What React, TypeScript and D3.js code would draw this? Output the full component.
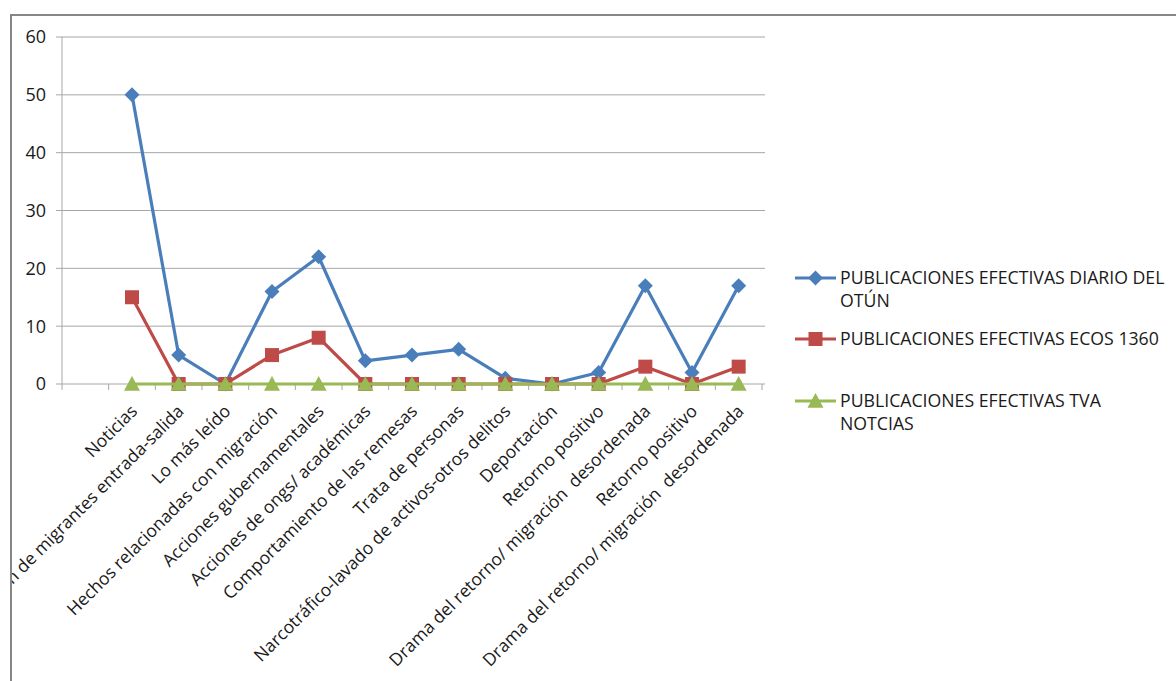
import React from "react";
import * as d3 from "d3";

const categories: string[] = [
  "",
  "Noticias",
  "Circulación de migrantes entrada-salida",
  "Lo más leído",
  "Hechos relacionadas con migración",
  "Acciones gubernamentales",
  "Acciones de ongs/ académicas",
  "Comportamiento de las remesas",
  "Trata de personas",
  "Narcotráfico-lavado de activos-otros delitos",
  "Deportación",
  "Retorno positivo",
  "Drama del retorno/ migración  desordenada",
  "Retorno positivo",
  "Drama del retorno/ migración  desordenada",
];

const diarioOtun: (number | null)[] = [null, 50, 5, 0, 16, 22, 4, 5, 6, 1, 0, 2, 17, 2, 17];
const ecos1360: (number | null)[] = [null, 15, 0, 0, 5, 8, 0, 0, 0, 0, 0, 0, 3, 0, 3];
const tvaNoticias: (number | null)[] = [null, 0, 0, 0, 0, 0, 0, 0, 0, 0, 0, 0, 0, 0, 0];

const yTicks: number[] = [0, 10, 20, 30, 40, 50, 60];

const seriesNames: string[][] = [
  ["PUBLICACIONES EFECTIVAS DIARIO DEL", "OTÚN"],
  ["PUBLICACIONES EFECTIVAS ECOS 1360"],
  ["PUBLICACIONES EFECTIVAS TVA", "NOTCIAS"],
];

const colors = ["#4A7EBB", "#BE4B48", "#98B954"];
const markers = ["diamond", "square", "triangle"];

const FONT = "'Open Sans', sans-serif";

function Marker({ kind, x, y, color }: { kind: string; x: number; y: number; color: string }) {
  if (kind === "diamond") {
    const s = 7.5;
    return <path d={`M${x},${y - s}L${x + s},${y}L${x},${y + s}L${x - s},${y}Z`} fill={color} />;
  }
  if (kind === "square") {
    const s = 7;
    return <rect x={x - s} y={y - s} width={2 * s} height={2 * s} fill={color} />;
  }
  const s = 8;
  return <path d={`M${x},${y - s}L${x + s},${y + s * 0.85}L${x - s},${y + s * 0.85}Z`} fill={color} />;
}

export default function App() {
  const W = 1176;
  const H = 681;
  const x = d3.scaleBand<number>().domain(categories.map((_, i) => i)).range([62, 762]);
  const cx = (i: number) => (x(i) as number) + x.bandwidth() / 2;
  const y = d3.scaleLinear().domain([0, 60]).range([384, 37]);
  const all = [diarioOtun, ecos1360, tvaNoticias];
  const line = d3
    .line<number | null>()
    .defined((d) => d !== null)
    .x((_, i) => cx(i))
    .y((d) => y(d as number));

  const legendY = [278, 339, 401];

  return (
    <svg
      width={W}
      height={H}
      style={{ position: "absolute", left: 0, top: 0, background: "#fff" }}
      fontFamily={FONT}
    >
      <defs>
        <clipPath id="chartClip">
          <rect x={11} y={15} width={W} height={H} />
        </clipPath>
      </defs>
      <rect x={0} y={0} width={W} height={H} fill="#fff" />
      <g clipPath="url(#chartClip)">
        {yTicks.map((t) => (
          <g key={t}>
            {t > 0 && <line x1={62} x2={765} y1={y(t)} y2={y(t)} stroke="#A6A6A6" strokeWidth={1} />}
            <line x1={56} x2={62} y1={y(t)} y2={y(t)} stroke="#A6A6A6" strokeWidth={1} />
            <text x={46} y={y(t)} dy="0.36em" textAnchor="end" fontSize={18} fill="#1a1a1a">
              {t}
            </text>
          </g>
        ))}
        <line x1={62} x2={62} y1={y(60)} y2={y(0)} stroke="#A6A6A6" strokeWidth={1} />
        <line x1={62} x2={765} y1={y(0)} y2={y(0)} stroke="#A6A6A6" strokeWidth={1} />
        {categories.map((_, i) => (
          <line key={i} x1={x(i) as number} x2={x(i) as number} y1={384} y2={390} stroke="#A6A6A6" />
        ))}
        <line x1={762} x2={762} y1={384} y2={390} stroke="#A6A6A6" />
        {categories.map((c, i) => (
          <text
            key={i}
            transform={`translate(${cx(i) + 2},${408}) rotate(-45)`}
            textAnchor="end"
            dy="0.35em"
            fontSize={17.5}
            fill="#1a1a1a"
            style={{ whiteSpace: "pre" }}
          >
            {c}
          </text>
        ))}
        {all.map((s, k) => (
          <g key={k}>
            <path d={line(s) || ""} fill="none" stroke={colors[k]} strokeWidth={3.2} strokeLinejoin="round" />
            {s.map((v, i) =>
              v === null ? null : <Marker key={i} kind={markers[k]} x={cx(i)} y={y(v)} color={colors[k]} />
            )}
          </g>
        ))}
        {seriesNames.map((lines, k) => (
          <g key={k}>
            <line x1={795} x2={836} y1={legendY[k]} y2={legendY[k]} stroke={colors[k]} strokeWidth={3.2} />
            <Marker kind={markers[k]} x={815.5} y={legendY[k]} color={colors[k]} />
            {lines.map((l, j) => (
              <text key={j} x={840} y={legendY[k] + j * 23} dy="0.36em" fontSize={17.7} fill="#1a1a1a">
                {l}
              </text>
            ))}
          </g>
        ))}
      </g>
      <rect x={11} y={15} width={W} height={H} fill="none" stroke="#868686" strokeWidth={2} />
    </svg>
  );
}
